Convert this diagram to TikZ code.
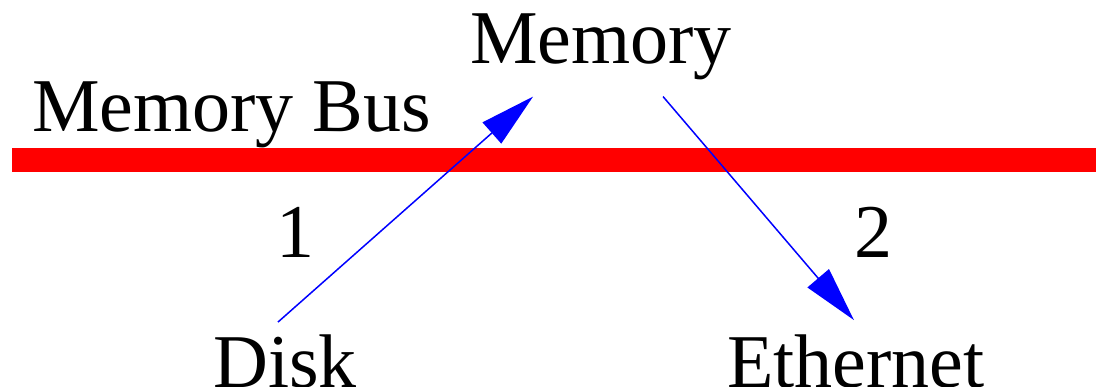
\documentclass[tikz,border=0pt]{standalone}
\usepackage{fontspec}
\setmainfont{Liberation Serif}
\usetikzlibrary{arrows.meta}
\tikzset{label/.style={inner sep=0pt,anchor=base west,font=\fontsize{76}{90}\selectfont},
         flow/.style={blue,line width=1.5pt,-{Triangle[length=55pt,width=28pt]}}}

\begin{document}
\begin{tikzpicture}[x=1pt,y=1pt]
        \useasboundingbox (0,0) rectangle (1096,387);
        % the bus itself
        \draw[red,line width=24pt] (12,227) -- (1096,227);
        \node[label] (bus) at (32,255) {Memory Bus};
        \node[label] (mem) at (470,323) {Memory};
        \node[label] (disk) at (213,-1) {Disk};
        \node[label] (eth) at (727,-1) {Ethernet};
        \node[label,anchor=base] (one) at (295,129) {1};
        \node[label,anchor=base] (two) at (873,129) {2};
        % transfers
        \draw[flow] ([shift={(-7,13)}]disk.north) -- ([shift={(-68,-16)}]mem.south);
        \draw[flow] ([shift={(62,-16)}]mem.south) -- ([shift={(-2,15)}]eth.north);
    \end{tikzpicture}
\end{document}
